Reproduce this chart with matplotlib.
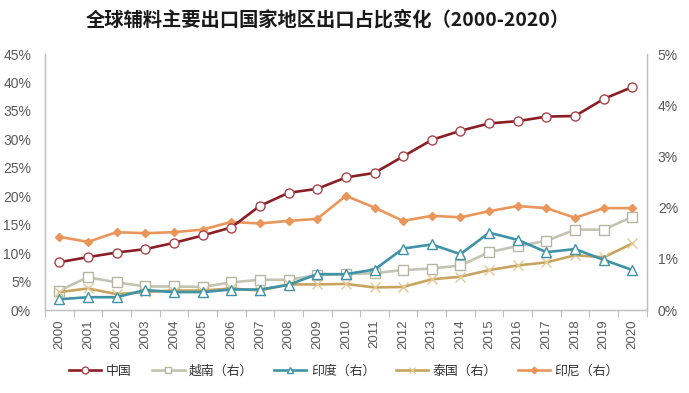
import matplotlib
matplotlib.use("Agg")
import matplotlib.pyplot as plt
from matplotlib.ticker import FuncFormatter, FixedLocator

years = [str(y) for y in range(2000, 2021)]
china = [8.4, 9.3, 10.1, 10.7, 11.8, 13.1, 14.5, 18.3, 20.6, 21.3, 23.3, 24.1, 27.0, 29.9, 31.5, 32.8, 33.2, 34.0, 34.1, 37.1, 39.2]
vietnam = [0.38, 0.64, 0.54, 0.46, 0.46, 0.45, 0.54, 0.59, 0.59, 0.68, 0.70, 0.72, 0.78, 0.81, 0.87, 1.13, 1.25, 1.35, 1.57, 1.57, 1.82]
india = [0.21, 0.25, 0.25, 0.39, 0.35, 0.35, 0.40, 0.40, 0.49, 0.70, 0.70, 0.79, 1.20, 1.28, 1.09, 1.51, 1.37, 1.13, 1.19, 0.98, 0.78]
thailand = [0.35, 0.42, 0.31, 0.35, 0.38, 0.38, 0.42, 0.38, 0.50, 0.50, 0.51, 0.44, 0.45, 0.60, 0.65, 0.78, 0.87, 0.93, 1.07, 1.03, 1.30]
indonesia = [1.43, 1.33, 1.52, 1.50, 1.52, 1.57, 1.72, 1.69, 1.74, 1.78, 2.23, 2.00, 1.74, 1.84, 1.81, 1.93, 2.03, 1.99, 1.80, 1.99, 1.99]
labels = ["中国", "越南（右）", "印度（右）", "泰国（右）", "印尼（右）"]
title = "全球辅料主要出口国家地区出口占比变化（2000-2020）"
left_ticks = list(range(0, 50, 5))
right_ticks = list(range(0, 6, 1))

cjk = ["Noto Sans CJK SC", "DejaVu Sans"]
plt.rcParams['font.family'] = ["Liberation Sans", "Noto Sans CJK SC", "DejaVu Sans"]

fig = plt.figure(figsize=(6.89, 3.93), dpi=100)
ax1 = fig.add_axes([45/689, 1-310/393, (646.7-45)/689, (310-54)/393])
ax2 = ax1.twinx()

x = list(range(len(years)))
tc = "#595959"
sc = "#BFBFBF"

c_china = "#8B1E24"
c_vn = "#C4C4B2"
c_in = "#3F93A8"
c_th = "#C9A45E"
c_id = "#EA965A"

lw = 1.9
ms = 6.5
h_id, = ax2.plot(x, indonesia, color=c_id, lw=lw, marker="D", ms=4.5, mfc=c_id, mec=c_id, label=labels[4])
h_vn, = ax2.plot(x, vietnam, color=c_vn, lw=lw, marker="s", ms=6.5, mfc="white", mec="#B5B5A3", mew=1.0, label=labels[1])
h_th, = ax2.plot(x, thailand, color=c_th, lw=lw, marker="x", ms=6.5, mec="#E2C995", mew=1.0, label=labels[3])
h_in, = ax2.plot(x, india, color=c_in, lw=lw, marker="^", ms=6.5, mfc="white", mec=c_in, mew=1.0, label=labels[2])
h_cn, = ax1.plot(x, china, color=c_china, lw=lw, marker="o", ms=ms, mfc="white", mec="#A8454B", mew=1.0, label=labels[0])

ax1.set_zorder(ax2.get_zorder() + 1)
ax1.patch.set_visible(False)

ax1.set_xlim(-0.5, len(years) - 0.5)
ax1.set_ylim(0, 45)
ax2.set_ylim(0, 5)
ax1.set_yticks(left_ticks)
ax2.set_yticks(right_ticks)
pct = FuncFormatter(lambda v, p: f"{v:.0f}%")
ax1.yaxis.set_major_formatter(pct)
ax2.yaxis.set_major_formatter(pct)

ax1.set_xticks(x)
ax1.set_xticklabels(years, rotation=90)
ax1.xaxis.set_minor_locator(FixedLocator([i + 0.5 for i in range(-1, len(years))]))
ax1.tick_params(axis="x", which="major", length=0, pad=7, labelsize=9.5, labelcolor=tc)
ax1.tick_params(axis="x", which="minor", length=5, color=sc, width=0.8, direction="out")
ax1.tick_params(axis="y", length=0, labelsize=10, labelcolor=tc, pad=10)
ax2.tick_params(axis="y", length=0, labelsize=10, labelcolor=tc, pad=8)

for ax in (ax1, ax2):
    ax.spines["top"].set_visible(False)
    for s in ("left", "right", "bottom"):
        ax.spines[s].set_color(sc)
        ax.spines[s].set_linewidth(0.9)

fig.text(328/689, 1-20/393, title, ha="center", va="center", fontsize=13.9, fontweight="bold", family=cjk, color="#1a1a1a")

leg = fig.legend([h_cn, h_vn, h_in, h_th, h_id], labels, loc="center", bbox_to_anchor=(344/689, 1-371/393),
                 ncol=5, frameon=False, prop={"family": cjk, "size": 9.3}, handlelength=2.5,
                 columnspacing=1.6, handletextpad=0.35, markerscale=0.75)
for t in leg.get_texts():
    t.set_color("#333333")

fig.savefig("out.png", dpi=100)
